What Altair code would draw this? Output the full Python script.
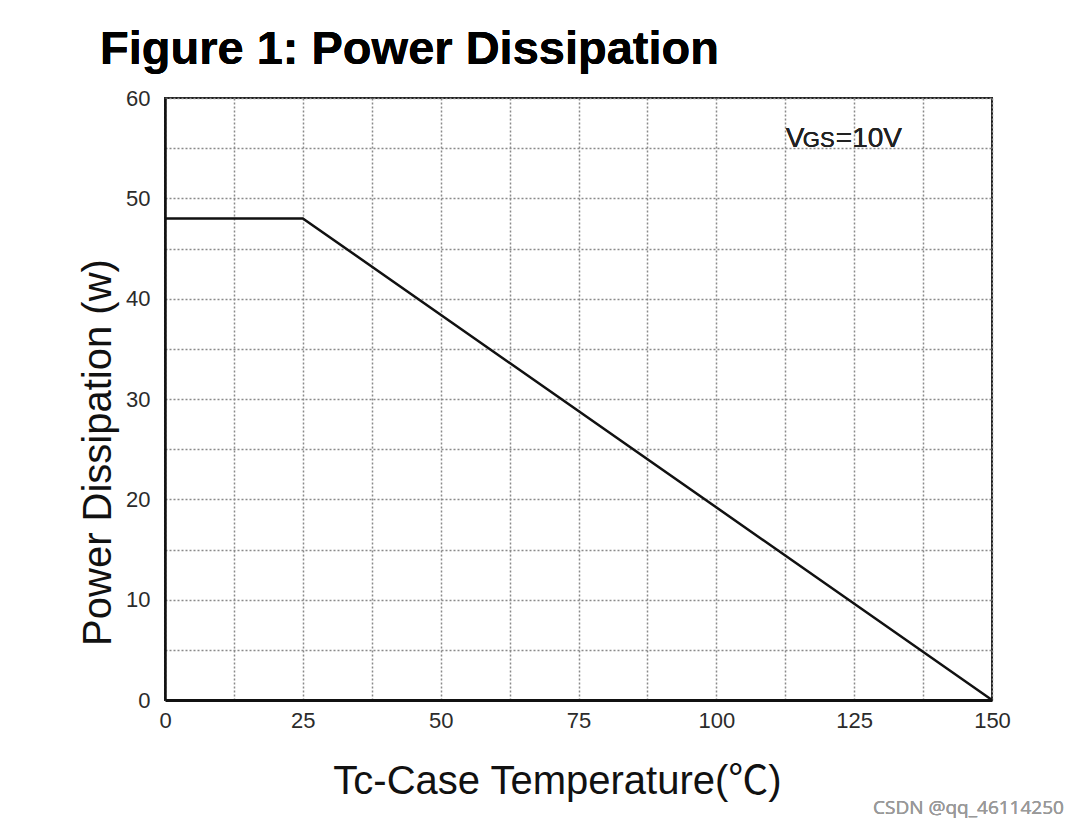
import altair as alt
import pandas as pd

# data
temperature = [0, 25, 150]
power = [48, 48, 0]

x_grid = [0, 12.5, 25, 37.5, 50, 62.5, 75, 87.5, 100, 112.5, 125, 137.5, 150]
y_grid = [0, 5, 10, 15, 20, 25, 30, 35, 40, 45, 50, 55, 60]

title_text = "Figure 1: Power Dissipation"
x_title = "Tc-Case Temperature(℃)"
y_title = "Power Dissipation (w)"
watermark = "CSDN @qq_46114250"

df = pd.DataFrame({"t": temperature, "p": power})

FONT = "Liberation Sans"
TITLE_FONT = "Liberation Sans, Noto Sans CJK SC"

x_enc = alt.X(
    "t:Q",
    scale=alt.Scale(domain=[0, 150], nice=False, zero=False),
    axis=alt.Axis(
        values=x_grid,
        labelExpr="datum.value % 25 === 0 ? datum.label : ''",
        labelOverlap=False,
        labelFlush=False,
        title=x_title,
        titleFont=TITLE_FONT,
        titleFontSize=40,
        titleFontWeight="normal",
        titleColor="#111",
        titleX=392,
        titleY=93,
        titleAlign="center",
        titleBaseline="alphabetic",
        labelFont=FONT,
        labelFontSize=22,
        labelColor="#2b2b2b",
        labelPadding=10,
        ticks=False,
        domainColor="#111",
        domainWidth=3,
        grid=True,
        gridColor="#8a8a8a",
        gridDash=[2, 2],
        gridWidth=1.5,
    ),
)
y_enc = alt.Y(
    "p:Q",
    scale=alt.Scale(domain=[0, 60], nice=False),
    axis=alt.Axis(
        values=y_grid,
        labelExpr="datum.value % 10 === 0 ? datum.label : ''",
        labelOverlap=False,
        labelFlush=False,
        title=y_title,
        titleFont=FONT,
        titleFontSize=40,
        titleFontWeight="normal",
        titleColor="#111",
        titleX=-55,
        titleY=354,
        titleAlign="center",
        titleAngle=270,
        titleBaseline="alphabetic",
        labelFont=FONT,
        labelFontSize=22,
        labelColor="#2b2b2b",
        labelPadding=15,
        ticks=False,
        domainColor="#111",
        domainWidth=2.5,
        grid=True,
        gridColor="#8a8a8a",
        gridDash=[2, 2],
        gridWidth=1.5,
    ),
)

line = alt.Chart(df).mark_line(color="#111", strokeWidth=2.5).encode(x=x_enc, y=y_enc)

ann_v = alt.Chart(df).mark_text(
    text="V", font=FONT, fontSize=28, align="left", baseline="alphabetic", color="#222"
).encode(x=alt.datum(112.6), y=alt.datum(55.1))
ann_gs = alt.Chart(df).mark_text(
    text="GS", font=FONT, fontSize=22, align="left", baseline="alphabetic", color="#222", dx=17
).encode(x=alt.datum(112.6), y=alt.datum(55.1))
ann_rest = alt.Chart(df).mark_text(
    text="=10V", font=FONT, fontSize=28, align="left", baseline="alphabetic", color="#222", dx=50
).encode(x=alt.datum(112.6), y=alt.datum(55.1))

title_mark = alt.Chart(df).mark_text(
    text=title_text, font=FONT, fontSize=47, fontWeight="bold", align="left",
    baseline="alphabetic", color="#000"
).encode(x=alt.value(-65), y=alt.value(-34))

wm = alt.Chart(df).mark_text(
    text=watermark, font="Open Sans", fontSize=19, align="left", baseline="middle", color="#999"
).encode(x=alt.value(708), y=alt.value(710))

chart = alt.layer(line, ann_v, ann_gs, ann_rest, title_mark, wm).properties(
    width=827,
    height=602,
    autosize=alt.AutoSizeParams(type="none"),
    padding={"left": 165, "top": 98, "right": 88, "bottom": 130},
    background="white",
).configure_view(stroke="#222", strokeWidth=2)

chart.save("out.html", embed_options={"renderer": "svg", "actions": False})
